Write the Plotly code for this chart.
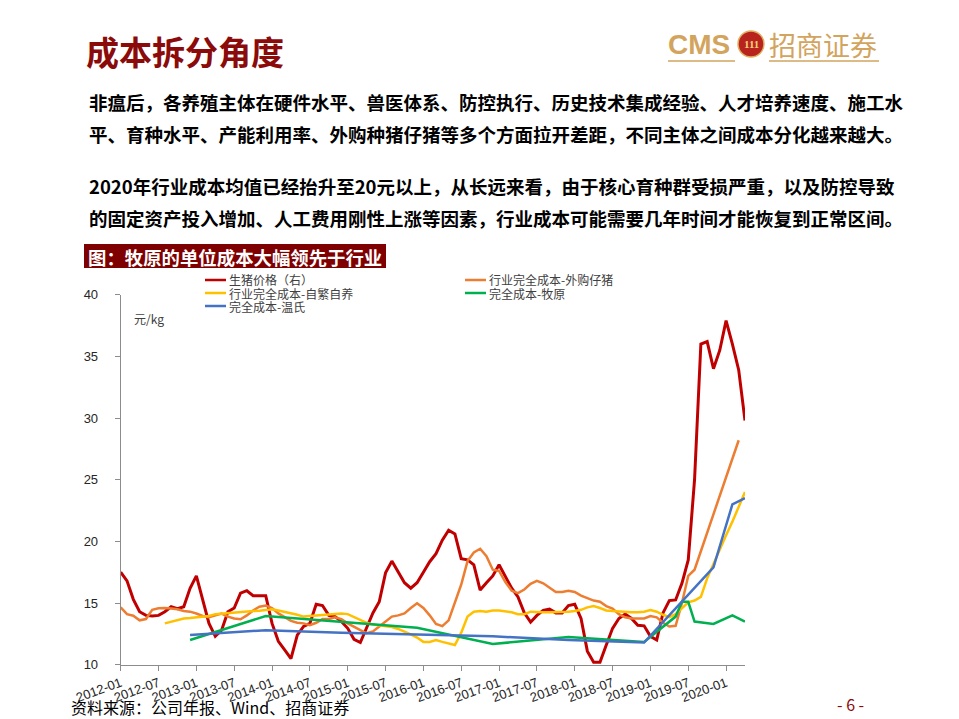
import plotly.graph_objects as go

# ---------------- data ----------------
months = ["%d-%02d" % (y, m) for y in range(2012, 2021) for m in range(1, 13)][:100]

tick_labels = ["2012-01", "2012-07", "2013-01", "2013-07", "2014-01", "2014-07",
               "2015-01", "2015-07", "2016-01", "2016-07", "2017-01", "2017-07",
               "2018-01", "2018-07", "2019-01", "2019-07", "2020-01"]

# 生猪价格（右）  2012-01 .. 2020-04
hog_price = [17.5, 16.8, 15.3, 14.3, 14.0, 13.95, 14.0, 14.3, 14.7, 14.55,
             14.7, 16.2, 17.2, 15.2, 13.35, 12.3, 12.8, 14.3, 14.6, 15.8,
             16.0, 15.6, 15.6, 15.6, 13.35, 11.9, 11.2, 10.5, 12.4, 13.1,
             13.35, 14.9, 14.8, 14.0, 13.9, 13.5, 12.95, 12.06, 11.8, 12.95,
             14.2, 15.1, 17.45, 18.4, 17.5, 16.65, 16.2, 16.65, 17.5, 18.35,
             19.0, 20.1, 20.9, 20.6, 18.6, 18.5, 18.1, 16.05, 16.65, 17.2,
             18.1, 17.1, 16.2, 15.5, 14.2, 13.45, 14.0, 14.4, 14.5, 14.2,
             14.2, 14.8, 14.9, 13.75, 11.1, 10.2, 10.2, 11.6, 12.95, 13.75,
             14.1, 13.75, 13.2, 13.15, 12.3, 12.0, 14.2, 15.2, 15.25, 16.6,
             18.5, 25.0, 36.0, 36.2, 34.0, 35.5, 37.9, 36.0, 33.9, 29.8]

# 行业完全成本-外购仔猪  2012-01 .. 2020-03
cost_bought_piglet = [14.65, 14.1, 13.97, 13.6, 13.7, 14.45, 14.57, 14.6, 14.55, 14.5,
                      14.35, 14.3, 14.15, 13.95, 13.85, 14.0, 14.15, 13.9, 13.75, 13.68,
                      14.0, 14.4, 14.7, 14.8, 14.6, 14.16, 13.85, 13.55, 13.4, 13.35,
                      13.2, 13.4, 13.7, 13.7, 13.84, 13.7, 13.35, 13.05, 12.8, 12.55,
                      12.7, 13.1, 13.5, 13.9, 14.0, 14.16, 14.6, 14.98, 14.6, 14.0,
                      13.3, 13.13, 13.6, 15.0, 16.5, 18.4, 19.1, 19.4, 18.8, 17.7,
                      17.6, 16.7, 16.0, 15.8, 16.1, 16.55, 16.8, 16.6, 16.27, 15.9,
                      15.9, 16.0, 15.9, 15.6, 15.4, 15.2, 15.1, 14.75, 14.55, 14.1,
                      13.84, 13.75, 13.75, 13.75, 13.95, 13.84, 13.4, 13.1, 13.15, 15.0,
                      17.2, 17.7, 19.2, 20.7, 22.2, 23.7, 25.2, 26.7, 28.2]

# 行业完全成本-自繁自养  2012-08 .. 2020-04
cost_self_bred = [13.35, 13.5, 13.65, 13.75, 13.78, 13.85, 13.9, 13.95, 14.1, 14.15,
                  14.18, 14.2, 14.3, 14.32, 14.35, 14.38, 14.45, 14.5, 14.4, 14.3,
                  14.2, 14.05, 13.9, 13.95, 14.0, 14.05, 14.1, 14.15, 14.15, 14.1,
                  13.85, 13.6, 13.4, 13.25, 13.2, 13.15, 13.05, 12.9, 12.7, 12.45,
                  12.2, 11.85, 11.85, 12.0, 11.85, 11.75, 11.6, 12.6, 13.9, 14.3,
                  14.35, 14.3, 14.4, 14.4, 14.35, 14.25, 14.1, 14.1, 14.3, 14.25,
                  14.25, 14.25, 14.25, 14.25, 14.3, 14.35, 14.45, 14.65, 14.75, 14.6,
                  14.4, 14.35, 14.3, 14.25, 14.25, 14.25, 14.3, 14.43, 14.3, 14.05,
                  13.85, 14.1, 14.6, 15.05, 15.2, 15.5, 17.0, 18.2, 19.3, 20.5,
                  21.6, 22.8, 24.0]

# 完全成本-牧原
muyuan_months = ["2012-12", "2013-12", "2015-12", "2016-12", "2017-12", "2018-12",
                 "2019-05", "2019-06", "2019-07", "2019-08", "2019-11", "2020-02", "2020-04"]
muyuan_cost = [12.0, 13.95, 13.0, 11.68, 12.25, 11.85,
               13.9, 15.1, 15.1, 13.5, 13.3, 14.0, 13.5]

# 完全成本-温氏
wens_months = ["2012-12", "2013-12", "2014-12", "2015-12", "2016-12", "2017-12",
               "2018-12", "2019-11", "2020-02", "2020-04"]
wens_cost = [12.4, 12.8, 12.6, 12.45, 12.3, 12.0, 11.8, 17.9, 23.0, 23.5]

series_names = ["生猪价格（右）", "行业完全成本-外购仔猪", "行业完全成本-自繁自养",
                "完全成本-牧原", "完全成本-温氏"]
colors = ["#C00000", "#ED7D31", "#FFC000", "#00B050", "#4472C4"]

# The page body has an 8px margin, so the figure is drawn 8px smaller and
# every page coordinate below is given in window pixels.
OFF = 8
W, H = 959 - OFF, 719 - OFF


def px(x):
    return (x - OFF) / W


def py(y):
    return 1 - (y - OFF) / H


fig = go.Figure()
fig.add_trace(go.Scatter(x=months, y=hog_price, mode="lines", name=series_names[0],
                         line=dict(color=colors[0], width=3)))
fig.add_trace(go.Scatter(x=months[:len(cost_bought_piglet)], y=cost_bought_piglet, mode="lines",
                         name=series_names[1], line=dict(color=colors[1], width=2.5)))
fig.add_trace(go.Scatter(x=months[7:7 + len(cost_self_bred)], y=cost_self_bred, mode="lines",
                         name=series_names[2], line=dict(color=colors[2], width=2.5)))
fig.add_trace(go.Scatter(x=muyuan_months, y=muyuan_cost, mode="lines",
                         name=series_names[3], line=dict(color=colors[3], width=2.5)))
fig.add_trace(go.Scatter(x=wens_months, y=wens_cost, mode="lines",
                         name=series_names[4], line=dict(color=colors[4], width=2.5)))

axis_color = "#8C8C8C"
tick_font = dict(family="Liberation Sans, Arial, sans-serif", size=13, color="#262626")

fig.update_layout(
    width=W, height=H,
    margin=dict(l=0, r=0, t=0, b=0, autoexpand=False),
    paper_bgcolor="white", plot_bgcolor="white",
    showlegend=False,
    xaxis=dict(type="category", categoryorder="array", categoryarray=months,
               domain=[px(120.7), px(745)], range=[0, 99], automargin=False,
               tickvals=tick_labels, ticktext=tick_labels, tickangle=-20,
               showline=True, linecolor=axis_color, linewidth=1,
               ticks="outside", ticklen=5, tickcolor=axis_color,
               showgrid=False, zeroline=False, tickfont=tick_font),
    yaxis=dict(domain=[py(664.7), py(294.7)], range=[10, 40], dtick=5, automargin=False,
               showline=True, linecolor=axis_color, linewidth=1,
               ticks="outside", ticklen=5, tickcolor=axis_color,
               ticklabelstandoff=14,
               showgrid=False, zeroline=False, tickfont=tick_font),
)

cjk = "Noto Sans CJK SC"
ann = []
shapes = []


def text(x, y, s, size, color="#000000", bold=False, anchor="left", family=cjk, pad=1):
    ann.append(dict(x=px(x), y=py(y), xref="paper", yref="paper", text=("<b>%s</b>" % s) if bold else s,
                    showarrow=False, xanchor=anchor, yanchor="middle", borderpad=pad,
                    font=dict(family=family, size=size, color=color)))


# header
text(84, 51, "成本拆分角度", 33, color="#8B0A0A", bold=True)
gold = "#D2A45E"
text(666, 44, "CMS", 28, color=gold, bold=True, family="Liberation Sans Narrow, Liberation Sans, Arial")
shapes.append(dict(type="circle", xref="paper", yref="paper",
                   x0=px(738), x1=px(764), y0=py(57), y1=py(31),
                   fillcolor="#B8231E", line=dict(color="#E0B060", width=1.5)))
text(751, 44, "111", 11, color="#F3D27A", bold=True, anchor="center", family="Liberation Serif")
text(767, 44, "招商证券", 27, color=gold, family=cjk)
shapes.append(dict(type="line", xref="paper", yref="paper", x0=px(668), x1=px(735),
                   y0=py(61), y1=py(61), line=dict(color=gold, width=1.5)))
shapes.append(dict(type="line", xref="paper", yref="paper", x0=px(769), x1=px(879),
                   y0=py(61), y1=py(61), line=dict(color=gold, width=1.5)))

# paragraphs
para = ["非瘟后，各养殖主体在硬件水平、兽医体系、防控执行、历史技术集成经验、人才培养速度、施工水",
        "平、育种水平、产能利用率、外购种猪仔猪等多个方面拉开差距，不同主体之间成本分化越来越大。",
        "2020年行业成本均值已经抬升至20元以上，从长远来看，由于核心育种群受损严重，以及防控导致",
        "的固定资产投入增加、人工费用刚性上涨等因素，行业成本可能需要几年时间才能恢复到正常区间。"]
for s, y in zip(para, [102, 134, 186, 218]):
    text(87, y, s, 18.5, color="#000000", bold=True)

# caption box
shapes.append(dict(type="rect", xref="paper", yref="paper", x0=px(84), x1=px(386),
                   y0=py(268), y1=py(244), fillcolor="#7F0000", line=dict(width=0)))
text(86, 256.5, "图：牧原的单位成本大幅领先于行业", 18.4, color="#FFFFFF", bold=True)

# legend (manual, two columns)
leg_pos = [(205, 280), (465, 280), (205, 293), (465, 293), (205, 306)]
for (lx, ly), name, col in zip(leg_pos, series_names, colors):
    shapes.append(dict(type="line", xref="paper", yref="paper", x0=px(lx), x1=px(lx + 21),
                       y0=py(ly), y1=py(ly), line=dict(color=col, width=2.5)))
    text(lx + 23, ly, name, 12, color="#404040", pad=0)

text(132, 318, "元/kg", 12, color="#404040")

# footer
text(69, 707, "资料来源：公司年报、Wind、招商证券", 16, color="#000000")
text(835, 704, "- 6 -", 16, color="#8B0A0A")

fig.update_layout(annotations=ann, shapes=shapes)
fig.write_html("out.html")
